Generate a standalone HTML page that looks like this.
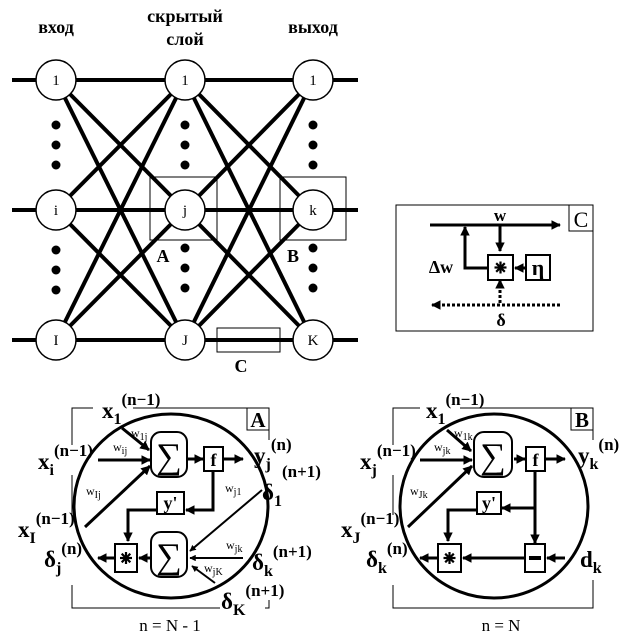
<!DOCTYPE html>
<html><head><meta charset="utf-8"><style>
html,body{margin:0;padding:0;background:#fff}
svg{display:block}
text{font-family:"Liberation Serif","DejaVu Serif",serif;fill:#000}
.b{font-weight:bold}
</style></head><body>
<svg width="640" height="640" viewBox="0 0 640 640" xmlns="http://www.w3.org/2000/svg">
<defs>
<marker id="ah" viewBox="0 0 10 10" refX="9" refY="5" markerWidth="3.2" markerHeight="3.2" orient="auto"><path d="M0,0L10,5L0,10z" fill="#000"/></marker>
<g id="star" stroke="#000" stroke-width="2.2"><line x1="-6" y1="0" x2="6" y2="0"/><line x1="0" y1="-6" x2="0" y2="6"/><line x1="-4.3" y1="-4.3" x2="4.3" y2="4.3"/><line x1="-4.3" y1="4.3" x2="4.3" y2="-4.3"/></g>
</defs>
<text x="56" y="33" font-size="18" class="b" text-anchor="middle">вход</text>
<text x="185" y="22" font-size="18" class="b" text-anchor="middle">скрытый</text>
<text x="185" y="45" font-size="18" class="b" text-anchor="middle">слой</text>
<text x="313" y="33" font-size="18" class="b" text-anchor="middle">выход</text>
<g stroke="#000" stroke-width="4">
<line x1="12" y1="80" x2="358" y2="80"/><line x1="12" y1="210" x2="358" y2="210"/><line x1="12" y1="340" x2="358" y2="340"/>
<line x1="56" y1="80" x2="185" y2="210"/><line x1="56" y1="80" x2="185" y2="340"/>
<line x1="56" y1="210" x2="185" y2="80"/><line x1="56" y1="210" x2="185" y2="340"/>
<line x1="56" y1="340" x2="185" y2="80"/><line x1="56" y1="340" x2="185" y2="210"/>
<line x1="185" y1="80" x2="313" y2="210"/><line x1="185" y1="80" x2="313" y2="340"/>
<line x1="185" y1="210" x2="313" y2="80"/><line x1="185" y1="210" x2="313" y2="340"/>
<line x1="185" y1="340" x2="313" y2="80"/><line x1="185" y1="340" x2="313" y2="210"/>
</g>
<g fill="none" stroke="#000" stroke-width="1">
<rect x="150" y="177" width="67" height="63"/>
<rect x="280" y="177" width="66" height="63"/>
<rect x="217" y="328" width="63" height="24"/>
</g>
<g fill="#fff" stroke="#000" stroke-width="1.5">
<circle cx="56" cy="80" r="20"/><circle cx="56" cy="210" r="20"/><circle cx="56" cy="340" r="20"/>
<circle cx="185" cy="80" r="20"/><circle cx="185" cy="210" r="20"/><circle cx="185" cy="340" r="20"/>
<circle cx="313" cy="80" r="20"/><circle cx="313" cy="210" r="20"/><circle cx="313" cy="340" r="20"/>
</g>
<g font-size="15" text-anchor="middle">
<text x="56" y="85">1</text><text x="56" y="215">i</text><text x="56" y="345">I</text>
<text x="185" y="85">1</text><text x="185" y="215">j</text><text x="185" y="345">J</text>
<text x="313" y="85">1</text><text x="313" y="215">k</text><text x="313" y="345">K</text>
</g>
<g fill="#000">
<circle cx="56" cy="125" r="4.5"/><circle cx="56" cy="145" r="4.5"/><circle cx="56" cy="165" r="4.5"/>
<circle cx="56" cy="250" r="4.5"/><circle cx="56" cy="270" r="4.5"/><circle cx="56" cy="290" r="4.5"/>
<circle cx="185" cy="125" r="4.5"/><circle cx="185" cy="145" r="4.5"/><circle cx="185" cy="165" r="4.5"/>
<circle cx="185" cy="248" r="4.5"/><circle cx="185" cy="268" r="4.5"/><circle cx="185" cy="288" r="4.5"/>
<circle cx="313" cy="125" r="4.5"/><circle cx="313" cy="145" r="4.5"/><circle cx="313" cy="165" r="4.5"/>
<circle cx="313" cy="248" r="4.5"/><circle cx="313" cy="268" r="4.5"/><circle cx="313" cy="288" r="4.5"/>
</g>
<g font-size="18" class="b" text-anchor="middle">
<text x="163" y="262">A</text><text x="293" y="262">B</text><text x="241" y="372">C</text>
</g>

<!-- panel C -->
<rect x="396" y="205" width="197" height="126" fill="none" stroke="#000" stroke-width="1"/>
<rect x="569" y="205" width="24" height="26" fill="none" stroke="#000" stroke-width="1"/>
<text x="581" y="227" font-size="22" text-anchor="middle">C</text>
<text x="500" y="221" font-size="17" class="b" text-anchor="middle">w</text>
<g stroke="#000" stroke-width="3" fill="none">
<line x1="430" y1="225" x2="560" y2="225" marker-end="url(#ah)"/>
<line x1="500" y1="225" x2="500" y2="251" marker-end="url(#ah)"/>
<polyline points="488,268 465,268 465,227" marker-end="url(#ah)"/>
<line x1="526" y1="268" x2="515" y2="268" marker-end="url(#ah)"/>
<line x1="560" y1="305" x2="432" y2="305" stroke-dasharray="3,2" marker-end="url(#ah)"/>
<line x1="500" y1="303" x2="500" y2="280" stroke-dasharray="3,2" marker-end="url(#ah)"/>
</g>
<rect x="488" y="255" width="25" height="25" fill="#fff" stroke="#000" stroke-width="2"/>
<use href="#star" x="500.5" y="267.5"/>
<rect x="526" y="255" width="24" height="25" fill="#fff" stroke="#000" stroke-width="2"/>
<text x="538" y="275" font-size="22" class="b" text-anchor="middle">η</text>
<text x="441" y="273" font-size="18" class="b" text-anchor="middle">Δw</text>
<text x="501" y="326" font-size="18" class="b" text-anchor="middle">δ</text>

<!-- panel A -->
<rect x="72" y="408" width="197" height="200" fill="none" stroke="#000" stroke-width="1"/>
<rect x="93" y="395" width="40" height="20" fill="#fff"/>
<rect x="30" y="445" width="50" height="30" fill="#fff"/>
<rect x="20" y="515" width="58" height="70" fill="#fff"/>
<rect x="245" y="440" width="40" height="160" fill="#fff"/>
<rect x="220" y="590" width="45" height="25" fill="#fff"/>
<ellipse cx="171" cy="506" rx="97" ry="92" fill="none" stroke="#000" stroke-width="3"/>
<rect x="247" y="408" width="22" height="22" fill="#fff" stroke="#000" stroke-width="1"/>
<text x="258" y="427" font-size="21" class="b" text-anchor="middle">A</text>
<g stroke="#000" stroke-width="3" fill="none">
<line x1="98" y1="460" x2="150" y2="460" marker-end="url(#ah)"/>
<line x1="122" y1="428" x2="149" y2="450" marker-end="url(#ah)"/>
<line x1="85" y1="527" x2="150" y2="466" marker-end="url(#ah)"/>
<line x1="188" y1="459" x2="203" y2="459" marker-end="url(#ah)"/>
<line x1="223" y1="459" x2="243" y2="459" marker-end="url(#ah)"/>
<polyline points="213,471 213,510 186,510" marker-end="url(#ah)"/>
<polyline points="157,510 128,510 128,541" marker-end="url(#ah)"/>
<line x1="151" y1="558" x2="139" y2="558" marker-end="url(#ah)"/>
<line x1="115" y1="558" x2="98" y2="558" marker-end="url(#ah)"/>
</g>
<g stroke="#000" stroke-width="2" fill="none">
<line x1="262" y1="490" x2="190" y2="551" marker-end="url(#ah)"/>
<line x1="243" y1="558" x2="190" y2="558" marker-end="url(#ah)"/>
<line x1="215" y1="583" x2="192" y2="566" marker-end="url(#ah)"/>
</g>
<rect x="151" y="432" width="36" height="45" rx="10" fill="#fff" stroke="#000" stroke-width="2"/>
<text x="169" y="468" font-size="36" text-anchor="middle">∑</text>
<rect x="204" y="447" width="19" height="24" fill="#fff" stroke="#000" stroke-width="2"/>
<text x="213.5" y="466" font-size="18" class="b" text-anchor="middle">f</text>
<rect x="157" y="492" width="27" height="22" fill="#fff" stroke="#000" stroke-width="2"/>
<text x="170.5" y="509" font-size="18" class="b" text-anchor="middle">y'</text>
<rect x="115" y="544" width="22" height="28" fill="#fff" stroke="#000" stroke-width="2"/>
<use href="#star" x="126" y="558"/>
<rect x="151" y="532" width="36" height="45" rx="10" fill="#fff" stroke="#000" stroke-width="2"/>
<text x="169" y="568" font-size="36" text-anchor="middle">∑</text>
<g font-size="12">
<text x="131" y="437">w<tspan font-size="10" dy="3">1j</tspan></text>
<text x="113" y="451">w<tspan font-size="10" dy="3">ij</tspan></text>
<text x="86" y="495">w<tspan font-size="10" dy="3">Ij</tspan></text>
<text x="225" y="492">w<tspan font-size="10" dy="3">j1</tspan></text>
<text x="226" y="549">w<tspan font-size="10" dy="3">jk</tspan></text>
<text x="204" y="572">w<tspan font-size="10" dy="3">jK</tspan></text>
</g>
<g class="b" font-size="23">
<text x="102" y="418">x<tspan font-size="16" dy="6">1</tspan><tspan font-size="17" dy="-19">(n−1)</tspan></text>
<text x="38" y="469">x<tspan font-size="16" dy="6">i</tspan><tspan font-size="17" dy="-19">(n−1)</tspan></text>
<text x="18" y="537">x<tspan font-size="16" dy="6">I</tspan><tspan font-size="17" dy="-19">(n−1)</tspan></text>
<text x="44" y="567">δ<tspan font-size="16" dy="6">j</tspan><tspan font-size="17" dy="-19">(n)</tspan></text>
<text x="254" y="463">y<tspan font-size="16" dy="6">j</tspan><tspan font-size="17" dy="-19">(n)</tspan></text>
<text x="262" y="500">δ<tspan font-size="16" dy="6">1</tspan><tspan font-size="17" dy="-29">(n+1)</tspan></text>
<text x="252" y="570">δ<tspan font-size="16" dy="6">k</tspan><tspan font-size="17" dy="-19">(n+1)</tspan></text>
<text x="221" y="609">δ<tspan font-size="16" dy="6">K</tspan><tspan font-size="17" dy="-19">(n+1)</tspan></text>
</g>
<text x="170" y="631" font-size="17" text-anchor="middle">n = N - 1</text>

<!-- panel B -->
<rect x="393" y="408" width="200" height="200" fill="none" stroke="#000" stroke-width="1"/>
<rect x="420" y="395" width="40" height="20" fill="#fff"/>
<rect x="385" y="445" width="15" height="30" fill="#fff"/>
<rect x="380" y="515" width="20" height="70" fill="#fff"/>
<rect x="585" y="440" width="20" height="140" fill="#fff"/>
<ellipse cx="494" cy="506" rx="94" ry="92" fill="none" stroke="#000" stroke-width="3"/>
<rect x="571" y="408" width="22" height="22" fill="#fff" stroke="#000" stroke-width="1"/>
<text x="582" y="427" font-size="21" class="b" text-anchor="middle">B</text>
<g stroke="#000" stroke-width="3" fill="none">
<line x1="420" y1="460" x2="472" y2="460" marker-end="url(#ah)"/>
<line x1="447" y1="430" x2="471" y2="451" marker-end="url(#ah)"/>
<line x1="408" y1="527" x2="472" y2="466" marker-end="url(#ah)"/>
<line x1="514" y1="459" x2="525" y2="459" marker-end="url(#ah)"/>
<line x1="545" y1="459" x2="565" y2="459" marker-end="url(#ah)"/>
<line x1="535" y1="471" x2="535" y2="543" marker-end="url(#ah)"/>
<line x1="535" y1="508" x2="502" y2="508" marker-end="url(#ah)"/>
<polyline points="477,510 448,510 448,541" marker-end="url(#ah)"/>
<line x1="525" y1="558" x2="463" y2="558" marker-end="url(#ah)"/>
<line x1="438" y1="558" x2="420" y2="558" marker-end="url(#ah)"/>
<line x1="565" y1="558" x2="547" y2="558" marker-end="url(#ah)"/>
</g>
<rect x="474" y="432" width="38" height="45" rx="10" fill="#fff" stroke="#000" stroke-width="2"/>
<text x="493" y="468" font-size="36" text-anchor="middle">∑</text>
<rect x="526" y="447" width="19" height="24" fill="#fff" stroke="#000" stroke-width="2"/>
<text x="535.5" y="466" font-size="18" class="b" text-anchor="middle">f</text>
<rect x="477" y="492" width="24" height="22" fill="#fff" stroke="#000" stroke-width="2"/>
<text x="489" y="509" font-size="18" class="b" text-anchor="middle">y'</text>
<rect x="438" y="544" width="23" height="28" fill="#fff" stroke="#000" stroke-width="2"/>
<use href="#star" x="449.5" y="558"/>
<rect x="525" y="544" width="20" height="28" fill="#fff" stroke="#000" stroke-width="2"/>
<rect x="529" y="556" width="12" height="4" fill="#000"/>
<g font-size="12">
<text x="454" y="437">w<tspan font-size="10" dy="3">1k</tspan></text>
<text x="434" y="451">w<tspan font-size="10" dy="3">jk</tspan></text>
<text x="410" y="495">w<tspan font-size="10" dy="3">Jk</tspan></text>
</g>
<g class="b" font-size="23">
<text x="426" y="418">x<tspan font-size="16" dy="6">1</tspan><tspan font-size="17" dy="-19">(n−1)</tspan></text>
<text x="360" y="469">x<tspan font-size="16" dy="6">j</tspan><tspan font-size="17" dy="-19">(n−1)</tspan></text>
<text x="341" y="537">x<tspan font-size="16" dy="6">J</tspan><tspan font-size="17" dy="-19">(n−1)</tspan></text>
<text x="366" y="567">δ<tspan font-size="16" dy="6">k</tspan><tspan font-size="17" dy="-19">(n)</tspan></text>
<text x="578" y="463">y<tspan font-size="16" dy="6">k</tspan><tspan font-size="17" dy="-19">(n)</tspan></text>
<text x="580" y="567">d<tspan font-size="16" dy="6">k</tspan></text>
</g>
<text x="501" y="631" font-size="17" text-anchor="middle">n = N</text>
</svg>
</body></html>
